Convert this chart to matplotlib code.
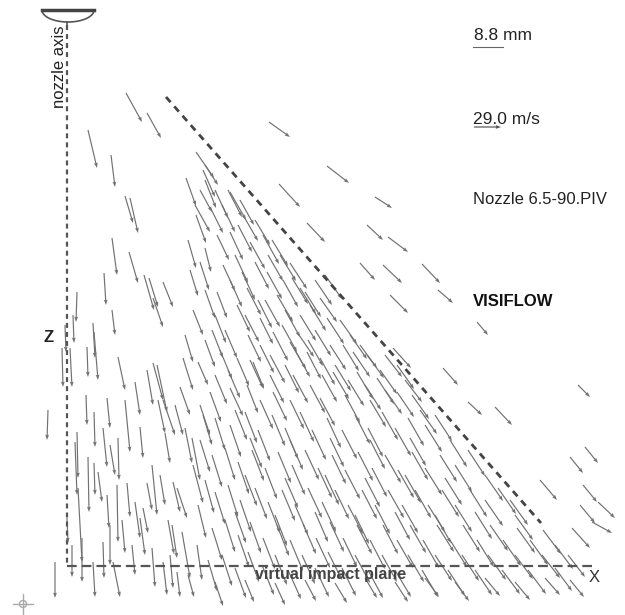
import matplotlib.pyplot as plt
import numpy as np

plt.rcParams['font.family'] = ['Liberation Sans', 'DejaVu Sans']
plt.rcParams['lines.scale_dashes'] = False

# PIV vectors, in picture pixels: tail x, tail y, dx, dy
# sparse vectors above / outside the jet edge
outer_x = [126, 147, 88, 111, 196, 205, 200, 269, 327, 279, 375, 307, 367, 388, 360, 383, 390,
           422, 438, 477, 443, 578, 468, 495, 585, 570, 540, 583, 598, 580, 592, 572]
outer_y = [93, 113, 130, 155, 152, 165, 190, 122, 166, 184, 197, 223, 225, 237, 263, 265, 295,
           264, 290, 322, 368, 385, 402, 407, 447, 457, 480, 485, 502, 505, 522, 528]
outer_u = [16, 14, 9, 4, 18, 13, 12, 21, 22, 21, 17, 18, 16, 20, 15, 19, 18,
           18, 15, 11, 15, 12, 14, 17, 13, 13, 17, 14, 17, 15, 20, 18]
outer_v = [29, 25, 38, 32, 26, 20, 22, 15, 17, 23, 11, 19, 15, 15, 17, 18, 18,
           19, 13, 13, 17, 12, 13, 18, 16, 16, 20, 17, 16, 18, 11, 20]

# vectors close to the nozzle axis
inner_x = [125, 130, 112, 129, 104, 144, 149, 163, 153, 77, 73, 112, 93, 94, 87, 62, 70, 65,
           118, 147, 153, 157, 135, 107, 193, 185, 183, 198, 180, 195, 205, 48, 77, 75, 88, 94,
           94, 103, 110, 118, 125, 140, 163, 165, 185, 192, 193, 98, 117, 107, 78, 72, 82, 127,
           135, 147, 152, 160, 173, 177, 143, 132, 140, 152, 163, 170, 177, 172, 182, 197, 103,
           110, 113, 93, 55, 67,
           200, 205, 198, 188, 203, 175, 168, 122, 86, 158]
inner_y = [196, 198, 238, 252, 273, 275, 278, 282, 298, 292, 315, 310, 323, 332, 347, 348, 348,
           325, 357, 370, 363, 365, 382, 398, 310, 335, 358, 362, 387, 205, 248, 410, 432, 442,
           457, 463, 412, 428, 445, 438, 400, 427, 400, 433, 428, 438, 465, 472, 485, 495, 488,
           545, 538, 483, 502, 483, 465, 475, 482, 488, 508, 545, 518, 548, 562, 555, 572, 525,
           532, 545, 542, 525, 562, 562, 562, 518,
           440, 480, 505, 575, 415, 405, 520, 520, 395, 400]
inner_u = [8, 8, 5, 9, 2, 10, 9, 10, 10, -1, 1, 3, 2, 4, 1, 1, 2, 1, 7, 6, 10, 10, 5, 3, 10, 8,
           10, 10, 10, 15, 6, -1, 1, 2, 1, 1, 1, 4, 5, 1, 5, 3, 12, 5, 7, 8, 10, 4, 1, 2, 4, 0, 0,
           3, 5, 5, 5, 5, 7, 10, 5, 3, 5, 3, 4, 3, 3, 5, 8, 5, 1, 0, 7, 2, 0, 1,
           10, 9, 8, 6, 9, 8, 6, 3, 1, 7]
inner_v = [27, 35, 37, 31, 32, 35, 29, 25, 29, 30, 28, 25, 35, 48, 30, 39, 39, 27, 33, 35, 37,
           47, 33, 30, 25, 27, 32, 23, 28, 27, 24, 30, 46, 53, 55, 32, 35, 39, 30, 42, 52, 31, 35,
           30, 35, 42, 38, 30, 57, 33, 74, 32, 44, 34, 36, 27, 50, 30, 30, 30, 25, 30, 37, 39, 33,
           33, 25, 33, 46, 35, 36, 40, 35, 35, 36, 25,
           32, 33, 33, 22, 30, 30, 34, 33, 30, 33]

# dense jet core, upper part (along the jet edge)
upper_x = [186, 203, 215, 228, 240, 196,
           210, 230, 243, 230, 217, 263, 250, 188, 255, 272, 280,
           223, 247, 267, 290, 300, 277, 217, 310, 320, 200, 235, 255, 283, 315, 325, 230, 205, 190,
           237, 327, 260, 248, 273, 290, 297, 215, 225, 285, 300, 340, 350, 315, 205, 265, 245, 360,
           237, 253, 270, 307, 320, 343, 353, 367, 393, 220, 285, 335, 380, 215, 228, 260, 295,
           230, 247, 273, 293, 310, 333, 357, 377, 397, 397, 210, 260, 290, 320, 345, 370, 412, 420,
           200, 235,
           205, 222, 238, 268, 292, 305, 242, 258, 282, 308, 330, 322, 348, 365, 385, 270, 250, 212,
           385, 405]
upper_y = [178, 170, 190, 190, 200, 215,
           207, 192, 215, 232, 235, 235, 242, 240, 220, 240, 255,
           265, 288, 272, 263, 288, 295, 292, 305, 298, 262, 255, 262, 280, 280, 275, 280, 290, 270,
           305, 318, 318, 335, 332, 342, 332, 315, 330, 310, 315, 320, 335, 330, 340, 300, 315, 345,
           358, 362, 355, 352, 358, 345, 352, 355, 348, 350, 365, 365, 370, 375, 370, 345, 350,
           388, 385, 392, 375, 385, 372, 372, 378, 365, 392, 392, 400, 400, 398, 395, 400, 395, 410,
           405, 410,
           180, 205, 225, 255, 278, 292, 272, 300, 325, 340, 345, 375, 380, 385, 390, 375, 360, 330,
           355, 380]
upper_u = [10, 12, 13, 14, 14, 10,
           13, 16, 15, 13, 12, 16, 15, 8, 15, 16, 16,
           12, 14, 15, 17, 16, 16, 10, 16, 17, 9, 13, 14, 15, 17, 17, 12, 10, 8,
           13, 17, 13, 13, 15, 16, 17, 11, 12, 15, 16, 17, 17, 16, 10, 15, 14, 17,
           12, 11, 15, 14, 15, 16, 17, 17, 18, 12, 14, 16, 17, 12, 12, 14, 15,
           13, 11, 14, 15, 15, 16, 16, 17, 17, 17, 11, 13, 14, 15, 15, 16, 17, 17,
           10, 12,
           11, 13, 14, 15, 16, 16, 13, 14, 15, 15, 16, 15, 16, 16, 17, 14, 13, 11,
           17, 17]
upper_v = [28, 27, 28, 27, 25, 28,
           26, 28, 26, 28, 25, 29, 27, 28, 25, 26, 26,
           26, 27, 27, 26, 26, 27, 26, 26, 24, 28, 28, 27, 27, 25, 24, 27, 28, 26,
           27, 26, 26, 27, 29, 27, 25, 28, 28, 27, 26, 24, 24, 26, 27, 27, 27, 23,
           28, 27, 28, 27, 27, 26, 25, 23, 20, 29, 28, 26, 24, 29, 28, 28, 27,
           28, 28, 29, 28, 28, 27, 27, 26, 24, 25, 30, 29, 29, 28, 28, 27, 24, 24,
           30, 30,
           28, 27, 27, 26, 26, 25, 28, 28, 27, 26, 25, 27, 26, 25, 24, 28, 28, 28,
           22, 22]

# dense jet core, lower part (down to the impact plane)
lower_x = [215, 230, 245, 258, 272, 285, 300, 312, 327, 342, 355, 368, 382, 395, 408, 425, 435,
           212, 225, 238, 252, 265, 278, 292, 305, 318, 332, 345, 358, 372, 385, 398, 412, 425, 440,
           455, 468,
           215, 228, 240, 255, 268, 282, 295, 308, 322, 335, 348, 362, 375, 388, 402, 415, 428, 442,
           455, 470, 485, 498, 510,
           212, 225, 238, 250, 263, 277, 290, 303, 316, 330, 343, 357, 370, 383, 397, 410, 423, 437,
           450, 463, 477, 490, 503, 517, 530, 543, 555,
           208, 222, 235, 248, 262, 275, 288, 302, 315, 328, 342, 355, 368, 382, 395, 408, 422, 435,
           448, 462, 475, 488, 502, 515, 528, 542, 555, 568,
           215, 245, 275, 305, 335, 365, 395, 425, 455, 485, 515, 545, 570,
           250, 290, 330, 370, 410, 450,
           245, 285, 325, 365, 405, 445, 485,
           235, 275, 315, 355, 395, 435, 475, 515]
lower_y = [418, 425, 412, 430, 415, 428, 412, 430, 418, 430, 415, 428, 412, 428, 418, 425, 415,
           455, 448, 462, 450, 468, 452, 465, 450, 468, 455, 470, 452, 468, 455, 470, 452, 468, 455,
           465, 450,
           492, 485, 500, 488, 502, 490, 505, 488, 502, 490, 505, 490, 505, 490, 505, 490, 505, 490,
           505, 490, 500, 488, 500,
           528, 520, 535, 522, 538, 525, 540, 524, 538, 522, 538, 525, 540, 525, 540, 525, 540, 525,
           540, 525, 540, 525, 540, 528, 540, 530, 545,
           560, 555, 568, 552, 565, 555, 570, 555, 568, 552, 568, 555, 570, 555, 570, 555, 570, 555,
           570, 555, 570, 555, 570, 555, 570, 555, 568, 555,
           582, 580, 583, 580, 583, 578, 582, 578, 582, 578, 582, 578, 580,
           438, 440, 438, 440, 438, 440,
           475, 478, 475, 478, 475, 478, 475,
           512, 515, 512, 515, 512, 515, 512, 515]
lower_u = [10, 11, 12, 12, 13, 13, 14, 14, 14, 15, 15, 15, 16, 16, 16, 17, 17,
           10, 10, 11, 12, 12, 13, 13, 14, 14, 14, 15, 15, 15, 16, 16, 16, 17, 17,
           17, 17,
           10, 10, 11, 12, 12, 13, 13, 14, 14, 14, 15, 15, 15, 16, 16, 16, 17, 17,
           17, 17, 18, 18, 18,
           10, 10, 11, 11, 12, 12, 13, 13, 14, 14, 14, 15, 15, 15, 16, 16, 16, 17,
           17, 17, 17, 18, 18, 18, 18, 18, 18,
           9, 10, 11, 11, 12, 12, 13, 13, 14, 14, 14, 15, 15, 15, 16, 16, 16, 17,
           17, 17, 17, 18, 18, 18, 18, 18, 17, 17,
           8, 9, 10, 11, 12, 12, 13, 14, 14, 15, 15, 15, 14,
           12, 13, 14, 15, 16, 17,
           12, 13, 14, 15, 16, 17, 18,
           11, 12, 13, 14, 15, 16, 17, 18]
lower_v = [32, 32, 31, 31, 31, 31, 30, 30, 30, 29, 29, 29, 28, 28, 28, 27, 26,
           32, 32, 32, 31, 31, 31, 30, 30, 30, 29, 29, 29, 29, 28, 28, 28, 27, 27,
           27, 26,
           32, 32, 32, 31, 31, 31, 30, 30, 30, 29, 29, 29, 29, 28, 28, 28, 27, 27,
           27, 27, 26, 26, 25,
           32, 32, 32, 31, 31, 31, 31, 30, 30, 30, 29, 29, 29, 29, 28, 28, 28, 27,
           27, 27, 27, 26, 26, 25, 25, 24, 24,
           31, 31, 30, 30, 30, 30, 29, 29, 29, 28, 28, 28, 28, 27, 27, 27, 27, 26,
           26, 26, 25, 25, 24, 24, 24, 23, 23, 22,
           24, 22, 22, 21, 20, 20, 20, 19, 19, 18, 18, 17, 17,
           30, 30, 29, 29, 28, 27,
           31, 30, 30, 29, 28, 27, 26,
           31, 31, 30, 29, 28, 28, 27, 25]

# geometry of the sketch (picture pixels)
axis_x = 67
axis_top, plane_y = 25, 566
plane_end = 595
edge_start = (166, 97)
edge_end = (541, 523)

ref_len_mm_px = 30      # 8.8 mm scale bar
ref_vel_px = 27         # 29.0 m/s reference vector


def main():
    fig = plt.figure(figsize=(6.25, 6.15), dpi=100)
    ax = fig.add_axes([0, 0, 1, 1])
    ax.set_xlim(0, 625)
    ax.set_ylim(615, 0)
    ax.axis('off')

    x = np.concatenate([outer_x, inner_x, upper_x, lower_x])
    y = np.concatenate([outer_y, inner_y, upper_y, lower_y])
    u = np.concatenate([outer_u, inner_u, upper_u, lower_u])
    v = np.concatenate([outer_v, inner_v, upper_v, lower_v])
    ax.quiver(x, y, u, v, angles='xy', scale_units='xy', scale=1, color='#727272',
              width=0.0019, headwidth=3.2, headlength=4.5, headaxislength=4.0, zorder=2)

    # nozzle
    t = np.linspace(0, np.pi, 60)
    ax.plot(68 + 26 * np.cos(t), 10 + 12 * np.sin(t), color='#555555', lw=1.2, zorder=3)
    ax.plot([42, 94], [10, 10], color='#444444', lw=2.5, zorder=3)
    ax.plot([axis_x, axis_x], [22, axis_top], color='#555555', lw=1.2)

    # nozzle axis, impact plane, jet edge
    ax.plot([axis_x, axis_x], [axis_top, plane_y], color='#555555', lw=1.6,
            linestyle=(0, (3.6, 2.9)), zorder=3)
    ax.plot([axis_x, plane_end], [plane_y, plane_y], color='#555555', lw=1.6,
            linestyle=(0, (7.0, 3.6)), zorder=3)
    ax.plot([edge_start[0], edge_end[0]], [edge_start[1], edge_end[1]], color='#444444',
            lw=2.0, linestyle=(0, (5.0, 4.0)), zorder=3)

    ax.text(59, 67, 'nozzle axis', rotation=90, ha='center', va='center', fontsize=12,
            color='#222222')
    ax.text(49, 338, 'Z', ha='center', va='center', fontsize=12, fontweight='bold',
            color='#222222')
    ax.text(594, 578, 'X', ha='center', va='center', fontsize=12, color='#333333')
    ax.text(331, 575, 'virtual impact plane', ha='center', va='center', fontsize=11.5,
            fontweight='bold', color='#444444', zorder=4)

    # legend block
    ax.text(474, 35, '8.8 mm', ha='left', va='center', fontsize=12.5, color='#222222')
    ax.plot([473, 473 + ref_len_mm_px], [47, 47], color='#666666', lw=0.8)
    ax.text(473, 120, '29.0 m/s', ha='left', va='center', fontsize=12.5, color='#222222')
    ax.quiver([474], [127], [ref_vel_px], [0], angles='xy', scale_units='xy', scale=1,
              color='#555555', width=0.0019, headwidth=3.2, headlength=4.5,
              headaxislength=4.0)
    ax.text(473, 200, 'Nozzle 6.5-90.PIV', ha='left', va='center', fontsize=12,
            color='#222222')
    ax.text(473, 302, 'VISIFLOW', ha='left', va='center', fontsize=12, fontweight='bold',
            color='#111111')

    # cross-hair marker at bottom-left
    ax.plot([13, 33], [604, 604], color='#aaaaaa', lw=1.0)
    ax.plot([23, 23], [594, 614], color='#aaaaaa', lw=1.0)
    ax.add_patch(plt.Circle((23, 604), 3.5, fill=False, color='#aaaaaa', lw=1.0))

    fig.savefig('out.png', dpi=100)
    plt.close(fig)


if __name__ == '__main__':
    main()
